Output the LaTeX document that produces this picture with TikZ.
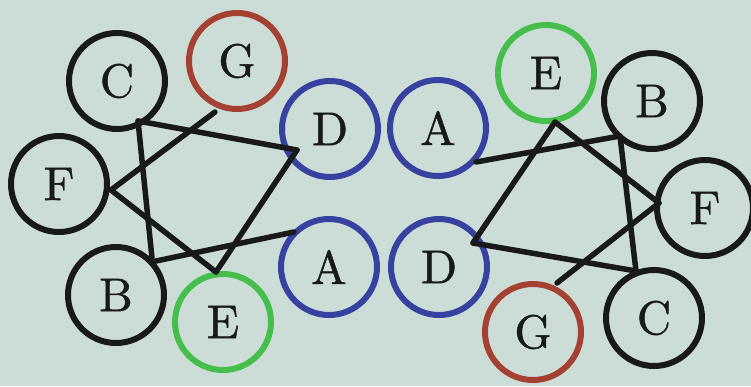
\documentclass[tikz,border=0pt]{standalone}
\usepackage{fontspec}
\newfontfamily\vletter{lmroman10-regular.otf}[FakeBold=0.9]
\definecolor{bgpaper}{RGB}{204,221,216}
\definecolor{ink}{RGB}{25,25,25}
\definecolor{vred}{RGB}{165,65,50}
\definecolor{vblue}{RGB}{55,65,160}
\definecolor{vgreen}{RGB}{70,190,75}
\begin{document}
\begin{tikzpicture}[x=0.02cm,y=-0.02cm,
  vertex/.style={circle,draw=ink,line width=0.12cm,minimum size=1.92cm,inner sep=0pt,
    font=\vletter\fontsize{27}{32}\selectfont,text=ink},
  redv/.style={vertex,draw=vred},
  bluev/.style={vertex,draw=vblue},
  greenv/.style={vertex,draw=vgreen},
  link/.style={draw=ink,line width=0.11cm,line cap=round,line join=round}]
\fill[bgpaper] (0,0) rectangle (751,386);
\useasboundingbox (0,0) rectangle (751,386);

% left graph
\node[vertex] (lC) at (117,81) {C};
\node[redv]   (lG) at (237,61) {G};
\node[vertex] (lF) at (59,184) {F};
\node[vertex] (lB) at (116,295) {B};
\node[greenv] (lE) at (223,322) {E};
\node[bluev]  (lD) at (330,129) {D};
\node[bluev]  (lA) at (329,267) {A};

% right graph
\node[bluev]  (rA) at (438,128) {A};
\node[bluev]  (rD) at (439,267) {D};
\node[greenv] (rE) at (546,73) {E};
\node[vertex] (rB) at (652,101) {B};
\node[vertex] (rF) at (705,208) {F};
\node[vertex] (rC) at (654,318) {C};
\node[redv]   (rG) at (533,332) {G};

% left edges
\draw[link] ([shift={(21,40)}]lC.center) -- ([shift={(-33,21)}]lD.center);
\draw[link] ([shift={(21,40)}]lC.center) -- ([shift={(36,-37)}]lB.center);
\draw[link] ([shift={(-22,51)}]lG.center) -- ([shift={(52,6)}]lF.center);
\draw[link] ([shift={(52,6)}]lF.center) -- ([shift={(-7,-50)}]lE.center);
\draw[link] ([shift={(-33,21)}]lD.center) -- ([shift={(-7,-50)}]lE.center);
\draw[link] ([shift={(40,-34)}]lB.center) -- ([shift={(-35,-35)}]lA.center);

% right edges
\draw[link] ([shift={(38,34)}]rA.center) -- ([shift={(-32,35)}]rB.center);
\draw[link] ([shift={(9,49)}]rE.center) -- ([shift={(-46,-5)}]rF.center);
\draw[link] ([shift={(9,49)}]rE.center) -- ([shift={(34,-24)}]rD.center);
\draw[link] ([shift={(-32,35)}]rB.center) -- ([shift={(-18,-47)}]rC.center);
\draw[link] ([shift={(34,-24)}]rD.center) -- ([shift={(-18,-47)}]rC.center);
\draw[link] ([shift={(24,-49)}]rG.center) -- ([shift={(-46,-5)}]rF.center);
\end{tikzpicture}
\end{document}
